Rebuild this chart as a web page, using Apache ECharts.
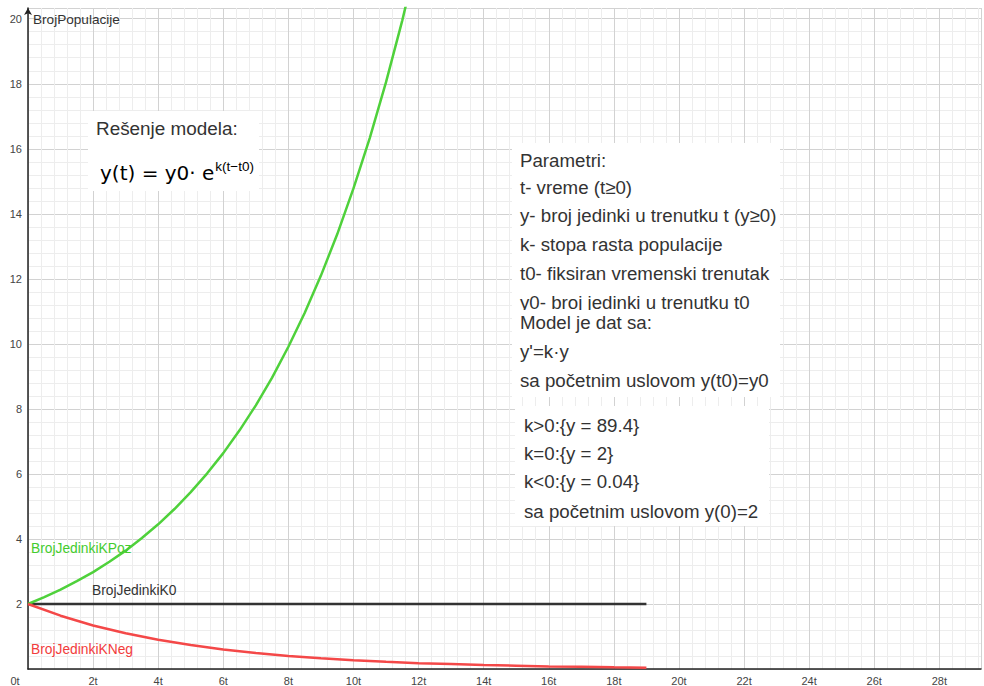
<!DOCTYPE html>
<html><head><meta charset="utf-8">
<script src="https://cdn.jsdelivr.net/npm/echarts@6/dist/echarts.min.js"></script>
<style>html,body{margin:0;padding:0;background:#fff}#c{width:984px;height:686px}</style>
</head><body><div id="c"></div>
<script>
// Values
const tPoz = [0,0.5,1,1.5,2,2.5,3,3.5,4,4.5,5,5.5,6,6.5,7,7.5,8,8.5,9,9.5,10,10.5,11,11.5,12];
const yPoz = [2,2.21,2.44,2.70,2.98,3.30,3.64,4.03,4.45,4.92,5.44,6.01,6.64,7.34,8.11,8.96,9.91,10.95,12.10,13.37,14.78,16.33,18.05,19.95,22.05];
const tNeg = [0,1,2,3,4,5,6,7,8,9,10,11,12,13,14,15,16,17,18,19];
const yNeg = [2,1.64,1.34,1.10,0.90,0.74,0.60,0.49,0.40,0.33,0.27,0.22,0.18,0.15,0.12,0.10,0.08,0.07,0.05,0.04];
const tK0 = [0,19];
const yK0 = [2,2];
const xTicks = [0,2,4,6,8,10,12,14,16,18,20,22,24,26,28];
const yTicks = [2,4,6,8,10,12,14,16,18,20];

const font = '"Liberation Sans", Arial, sans-serif';
const txt = '#333';
const chart = echarts.init(document.getElementById('c'), null, {renderer:'svg'});

const pair = (xs, ys) => xs.map((x,i)=>[x, ys[i]]);

const paramLines = [
  'Parametri:',
  't- vreme (t≥0)',
  'y- broj jedinki u trenutku t (y≥0)',
  'k- stopa rasta populacije',
  't0- fiksiran vremenski trenutak',
  'y0- broj jedinki u trenutku t0'
];
const paramY = [160,187,215,244,273,302];
const modelLines = ['Model je dat sa:', "y'=k·y", 'sa početnim uslovom y(t0)=y0'];
const modelY = [322,351,380];
const resLines = ['k>0:{y = 89.4}', 'k=0:{y = 2}', 'k<0:{y = 0.04}', 'sa početnim uslovom y(0)=2'];
const resY = [425,453,481,511];
const boxFont = '18.7px ' + font;

const g = [];
g.push({type:'rect', shape:{x:88,y:111,width:171,height:80}, style:{fill:'#fff'}, z:50});
g.push({type:'text', x:96, y:128, style:{text:'Rešenje modela:', font:'18.9px '+font, fill:txt, textVerticalAlign:'middle'}, z:51});
g.push({type:'text', x:100, y:170, style:{
  text:'{a|y(t) = y0· e}{b|k(t−t0)}',
  textVerticalAlign:'middle',
  rich:{a:{fontSize:20, fontFamily:'"DejaVu Sans", sans-serif', color:'#222', verticalAlign:'bottom', lineHeight:26},
        b:{fontSize:13.5, fontFamily:font, color:'#222', verticalAlign:'bottom', padding:[0,0,10,1], lineHeight:26}}
}, z:51});
g.push({type:'rect', shape:{x:512,y:143,width:268,height:170}, style:{fill:'#fff'}, z:50});
paramLines.forEach((s,i)=>g.push({type:'text', x:520, y:paramY[i], style:{text:s, font:boxFont, fill:txt, textVerticalAlign:'middle'}, z:51}));
g.push({type:'rect', shape:{x:512,y:310,width:268,height:87}, style:{fill:'#fff'}, z:52});
modelLines.forEach((s,i)=>g.push({type:'text', x:520, y:modelY[i], style:{text:s, font:boxFont, fill:txt, textVerticalAlign:'middle'}, z:53}));
g.push({type:'rect', shape:{x:515,y:406,width:254,height:120}, style:{fill:'#fff'}, z:50});
resLines.forEach((s,i)=>g.push({type:'text', x:524, y:resY[i], style:{text:s, font:boxFont, fill:txt, textVerticalAlign:'middle'}, z:51}));
g.push({type:'text', x:33, y:19, style:{text:'BrojPopulacije', font:'13.6px '+font, fill:txt, textVerticalAlign:'middle'}, z:51});
g.push({type:'text', x:31, y:548, style:{text:'BrojJedinkiKPoz', font:'13.8px '+font, fill:'#44cc2e', textVerticalAlign:'middle'}, z:51});
g.push({type:'text', x:92, y:590, style:{text:'BrojJedinkiK0', font:'13.8px '+font, fill:txt, textVerticalAlign:'middle'}, z:51});
g.push({type:'text', x:31, y:649, style:{text:'BrojJedinkiKNeg', font:'13.8px '+font, fill:'#f23c3c', textVerticalAlign:'middle'}, z:51});

chart.setOption({
  animation:false,
  backgroundColor:'#fff',
  grid:{left:28, right:0, top:8, bottom:16},
  xAxis:{type:'value', min:0, max:29.28, interval:2,
    axisLine:{show:true, onZero:false, lineStyle:{color:'#222', width:1.5}},
    axisTick:{show:false},
    axisLabel:{fontSize:11, color:'#444', fontFamily:font, margin:6,
      formatter:v => (xTicks.indexOf(v)<0 ? '' : (v===0 ? '{z|0t}' : v+'t')),
      rich:{z:{fontSize:11, color:'#444', fontFamily:font, padding:[0,26,0,0]}}},
    splitLine:{show:true, lineStyle:{color:'#d2d2d2', width:1}},
    minorTick:{show:false, splitNumber:5},
    minorSplitLine:{show:true, lineStyle:{color:'#ededed', width:1}}
  },
  yAxis:{type:'value', min:0, max:20.33, interval:2,
    axisLine:{show:true, onZero:false, symbol:['none','arrow'], symbolSize:[6,7], lineStyle:{color:'#222', width:1.5}},
    axisTick:{show:false},
    axisLabel:{fontSize:11, color:'#444', fontFamily:font, margin:6,
      formatter:v => (yTicks.indexOf(v)<0 ? '' : String(v))},
    splitLine:{show:true, lineStyle:{color:'#d2d2d2', width:1}},
    minorTick:{show:false, splitNumber:5},
    minorSplitLine:{show:true, lineStyle:{color:'#ededed', width:1}}
  },
  series:[
    {name:'BrojJedinkiKPoz', type:'line', data:pair(tPoz,yPoz), showSymbol:false, clip:true,
      lineStyle:{color:'#4fd13b', width:2.5}, z:5},
    {name:'BrojJedinkiK0', type:'line', data:pair(tK0,yK0), showSymbol:false, clip:true,
      lineStyle:{color:'#333', width:2.5}, z:4},
    {name:'BrojJedinkiKNeg', type:'line', data:pair(tNeg,yNeg), showSymbol:false, clip:true,
      lineStyle:{color:'#f44848', width:2.5}, z:5}
  ],
  graphic:g
});
</script></body></html>
